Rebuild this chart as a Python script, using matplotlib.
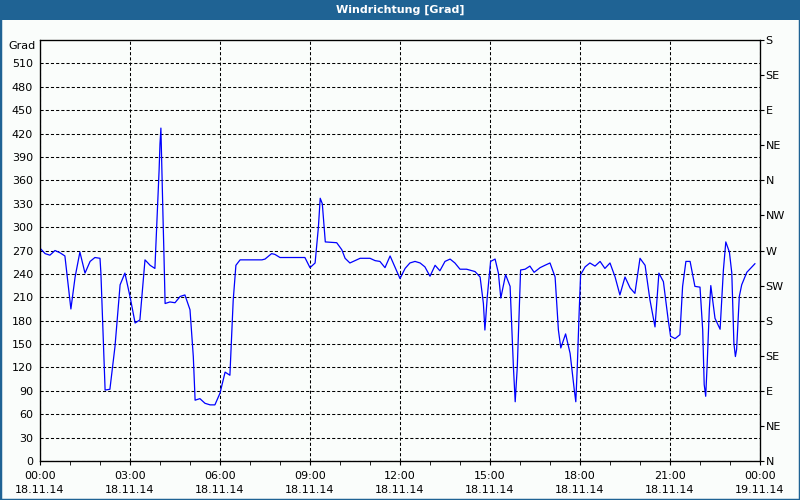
import matplotlib
matplotlib.use("Agg")
import matplotlib.pyplot as plt
from matplotlib.patches import Rectangle

# hours since 18.11.14 00:00
hours = [0.0, 0.17, 0.33, 0.5, 0.67, 0.83, 1.0, 1.03, 1.17, 1.33, 1.5, 1.67, 1.83, 2.0, 2.03,
         2.17, 2.33, 2.5, 2.67, 2.83, 3.0, 3.17, 3.33, 3.5, 3.67, 3.83, 3.89, 3.97, 4.0, 4.03,
         4.07, 4.1, 4.13, 4.17, 4.33, 4.5, 4.67, 4.83, 5.0, 5.11, 5.17, 5.33, 5.5, 5.67, 5.83,
         6.0, 6.17, 6.33, 6.44, 6.53, 6.67, 7.4, 7.5, 7.72, 7.83, 8.0, 8.83, 9.0, 9.17, 9.28,
         9.34, 9.41, 9.51, 9.89, 10.06, 10.17, 10.33, 10.67, 11.0, 11.17, 11.33, 11.5, 11.67,
         11.83, 12.0, 12.17, 12.33, 12.5, 12.67, 12.83, 13.0, 13.17, 13.33, 13.5, 13.67, 13.83,
         14.0, 14.22, 14.5, 14.67, 14.78, 14.83, 14.91, 15.02, 15.17, 15.28, 15.36, 15.52,
         15.67, 15.78, 15.84, 15.91, 16.02, 16.17, 16.33, 16.47, 16.67, 16.83, 17.0, 17.17,
         17.28, 17.36, 17.52, 17.67, 17.81, 17.86, 17.91, 17.97, 18.02, 18.17, 18.33, 18.5,
         18.67, 18.83, 19.0, 19.17, 19.33, 19.5, 19.67, 19.83, 20.0, 20.17, 20.33, 20.5, 20.63,
         20.78, 20.94, 21.02, 21.17, 21.33, 21.42, 21.53, 21.67, 21.83, 22.0, 22.09, 22.14,
         22.19, 22.24, 22.31, 22.36, 22.5, 22.67, 22.78, 22.86, 22.98, 23.06, 23.13, 23.18,
         23.22, 23.31, 23.39, 23.56, 23.83]
grad = [273, 266, 264, 270, 267, 263, 205, 195, 236, 268, 241, 256, 261, 260, 241,
        91, 92, 147, 226, 241, 211, 177, 181, 258, 251, 247, 300, 373, 407, 427,
        360, 313, 268, 202, 204, 203, 211, 213, 194, 134, 78, 80, 74, 72, 72,
        87, 114, 110, 206, 251, 258, 258, 259, 266, 265, 261, 261, 248, 254, 300,
        337, 330, 281, 280, 271, 260, 254, 260, 260, 257, 256, 248, 263,
        249, 234, 247, 254, 256, 254, 249, 237, 251, 244, 256, 259, 254,
        246, 246, 243, 236, 202, 168, 211, 256, 259, 241, 209, 239,
        224, 121, 76, 121, 245, 246, 250, 242, 248, 251, 254, 236,
        168, 145, 163, 138, 91, 76, 121, 189, 239, 249, 254, 250,
        256, 247, 254, 236, 213, 236, 222, 215, 260, 251, 207, 172, 241,
        230, 181, 160, 157, 162, 224, 256, 256, 224, 223, 168, 98,
        83, 125, 194, 225, 183, 169, 245, 281, 268, 241, 151, 134,
        143, 211, 226, 242, 253]

left_ticks = list(range(0, 511, 30))
compass_ticks = list(range(0, 541, 45))
compass_labels = ["N", "NE", "E", "SE", "S", "SW", "W", "NW", "N", "NE", "E", "SE", "S"]
x_ticks = list(range(0, 25, 3))
x_labels = ["00:00\n18.11.14", "03:00\n18.11.14", "06:00\n18.11.14", "09:00\n18.11.14",
            "12:00\n18.11.14", "15:00\n18.11.14", "18:00\n18.11.14", "21:00\n18.11.14",
            "00:00\n19.11.14"]

bg = "#fafdfb"
bar = "#1f6394"

fig = plt.figure(figsize=(8, 5), dpi=100, facecolor=bg)
fig.patches.append(Rectangle((0, 1 - 20 / 500), 1, 20 / 500, transform=fig.transFigure,
                             facecolor=bar, edgecolor="none", zorder=0))
fig.patches.append(Rectangle((0, 0), 1, 1, transform=fig.transFigure, facecolor="none",
                             edgecolor=bar, linewidth=2.5, zorder=5))
fig.text(0.5, 1 - 10 / 500, "Windrichtung [Grad]", color="white", fontsize=8,
         fontweight="bold", ha="center", va="center")

ax = fig.add_axes([40 / 800, 1 - 461 / 500, 720 / 800, 421 / 500])
ax.set_facecolor(bg)
ax.plot(hours, grad, color="#0000ff", linewidth=0.9, zorder=3)

ax.set_xlim(0, 24)
ax.set_ylim(0, 540)
ax.set_yticks(left_ticks)
ax.set_xticks(x_ticks)
ax.set_xticklabels(x_labels)
ax.set_xticks(range(0, 25), minor=True)
ax.tick_params(axis="y", length=0, pad=5, labelsize=8)
ax.tick_params(axis="x", which="both", direction="out", length=3, pad=4, labelsize=8)
ax.tick_params(axis="x", which="major", length=3)
for lbl in ax.get_xticklabels():
    lbl.set_linespacing(1.55)

ax.grid(True, which="major", color="black", linestyle=(0, (3, 2)), linewidth=0.75)
for s in ax.spines.values():
    s.set_linewidth(0.9)

ax2 = ax.twinx()
ax2.set_ylim(0, 540)
ax2.set_yticks(compass_ticks)
ax2.set_yticklabels(compass_labels)
ax2.tick_params(axis="y", direction="out", length=3, pad=1, labelsize=8)

fig.text(36 / 800, 1 - 46 / 500, "Grad", fontsize=8, ha="right", va="center")

fig.savefig("out.png", dpi=100, facecolor=bg)
